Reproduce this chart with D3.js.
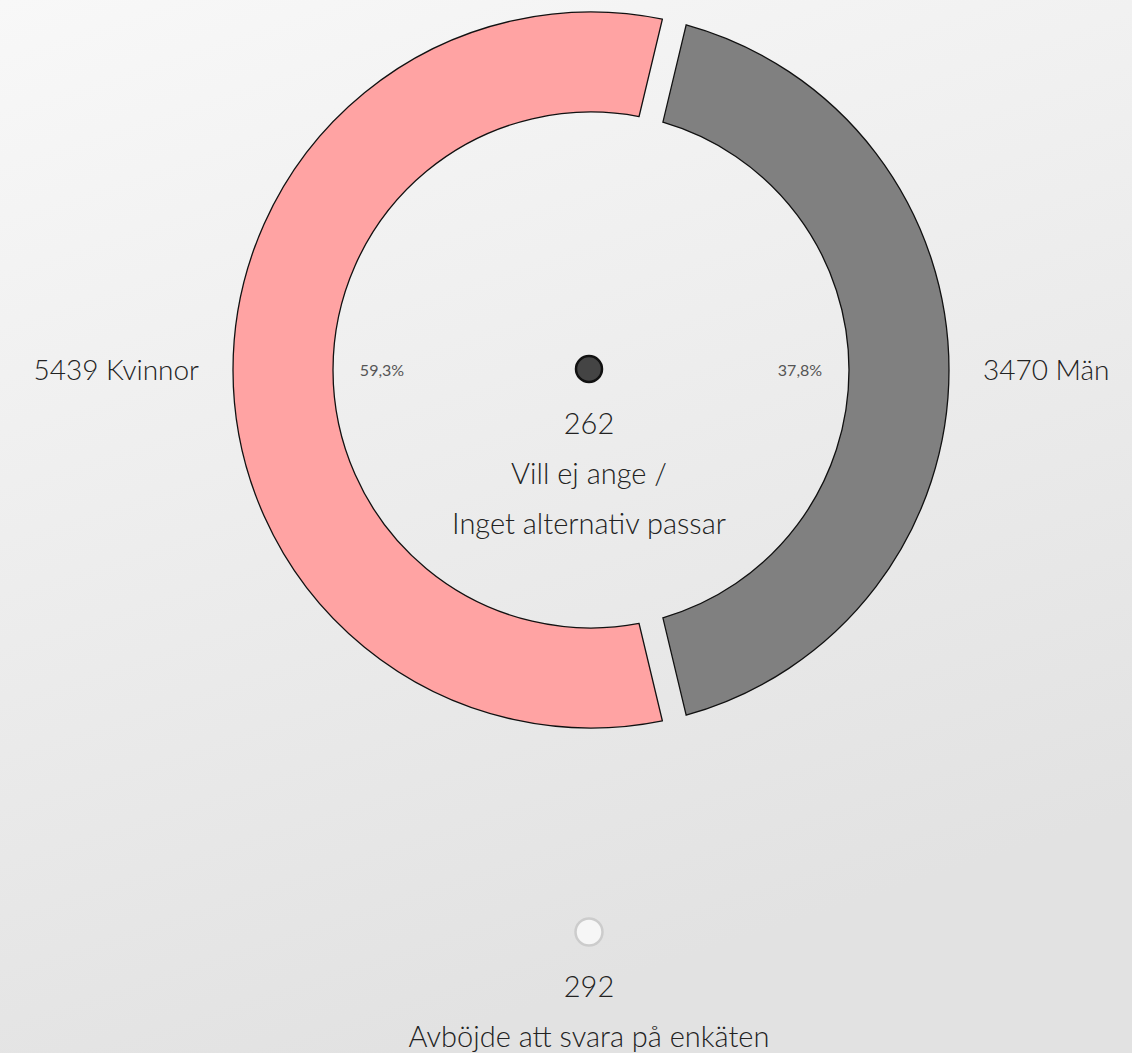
<!DOCTYPE html>
<html>
<head>
<meta charset="utf-8">
<script src="https://cdn.jsdelivr.net/npm/d3@7"></script>
<style>
  body { margin: 0; }
  text { font-family: Lato, "Open Sans", sans-serif; font-weight: 300; fill: #222; }
</style>
</head>
<body>
<script>
// groups shown on the ring
var ringLabels = ["Kvinnor", "Män"];
var ringCounts = [5439, 3470];
var ringColors = ["#ffa3a3", "#808080"];

// groups shown as dots
var dotLabels = [["Vill ej ange /", "Inget alternativ passar"], ["Avböjde att svara på enkäten"]];
var dotCounts = [262, 292];

var width = 1132, height = 1053;
var cx = 591, cy = 370;
var outerR = 358, innerR = 258;

var svg = d3.select("body").append("svg")
    .attr("width", width)
    .attr("height", height);

var grad = svg.append("defs").append("linearGradient")
    .attr("id", "bg")
    .attr("x1", 0).attr("y1", 0).attr("x2", 0.35).attr("y2", 1);
grad.append("stop").attr("offset", "0%").attr("stop-color", "#f8f8f8");
grad.append("stop").attr("offset", "100%").attr("stop-color", "#e2e2e2");

svg.append("rect").attr("width", width).attr("height", height).attr("fill", "url(#bg)");

// everyone asked
var total = d3.sum(ringCounts) + d3.sum(dotCounts);
// everyone who answered
var answered = d3.sum(ringCounts) + dotCounts[0];

var angle = d3.scaleLinear().domain([0, total]).range([0, 2 * Math.PI]);

var pinkSpan = angle(ringCounts[0]);
var arcsData = [
    { label: ringLabels[0], count: ringCounts[0], color: ringColors[0],
      mid: 1.5 * Math.PI, span: pinkSpan },
    { label: ringLabels[1], count: ringCounts[1], color: ringColors[1],
      mid: 0.5 * Math.PI, span: 2 * Math.PI - pinkSpan }
];
arcsData.forEach(function(d) {
    d.startAngle = d.mid - d.span / 2;
    d.endAngle = d.mid + d.span / 2;
});

var arc = d3.arc()
    .innerRadius(innerR)
    .outerRadius(outerR)
    .padAngle(0.0555);

var g = svg.append("g").attr("transform", "translate(" + cx + "," + cy + ")");

g.selectAll("path")
    .data(arcsData)
    .enter()
    .append("path")
    .attr("d", arc)
    .attr("fill", function(d) { return d.color; })
    .attr("stroke", "#111")
    .attr("stroke-width", 1.3);

var sv = d3.formatLocale({ decimal: ",", thousands: " ", grouping: [3], currency: ["", " kr"] });
var pct = sv.format(".1%");

// percentages inside the ring
g.selectAll("text.pct")
    .data(arcsData)
    .enter()
    .append("text")
    .attr("class", "pct")
    .attr("x", function(d) { return Math.sin(d.mid) * 209; })
    .attr("y", function(d) { return -Math.cos(d.mid) * 209; })
    .attr("text-anchor", "middle")
    .attr("dy", "0.35em")
    .style("font-size", "16px")
    .style("font-weight", 400)
    .style("fill", "#555")
    .text(function(d) { return pct(d.count / answered); });

// outer labels
g.selectAll("text.lab")
    .data(arcsData)
    .enter()
    .append("text")
    .attr("class", "lab")
    .attr("x", function(d) { return Math.sin(d.mid) * 392; })
    .attr("y", function(d) { return -Math.cos(d.mid) * 392; })
    .attr("text-anchor", function(d) { return Math.sin(d.mid) < 0 ? "end" : "start"; })
    .attr("dy", "0.35em")
    .style("font-size", "28px")
    .text(function(d) { return d.count + " " + d.label; });

// dots
var dotY = [cy - 1, cy + 562];
var dotR = [13, 13.5];
var dotFill = ["#444", "#f6f6f6"];
var dotStroke = ["#111", "#ccc"];

dotCounts.forEach(function(c, i) {
    var dg = svg.append("g").attr("transform", "translate(" + (cx - 2) + "," + dotY[i] + ")");
    dg.append("circle")
        .attr("r", dotR[i])
        .attr("fill", dotFill[i])
        .attr("stroke", dotStroke[i])
        .attr("stroke-width", 2.5);
    var lines = [String(c)].concat(dotLabels[i]);
    dg.selectAll("text")
        .data(lines)
        .enter()
        .append("text")
        .attr("text-anchor", "middle")
        .attr("y", function(d, j) { return 55 + j * 50; })
        .attr("dy", "0.35em")
        .style("font-size", "29px")
        .text(function(d) { return d; });
});
</script>
</body>
</html>
